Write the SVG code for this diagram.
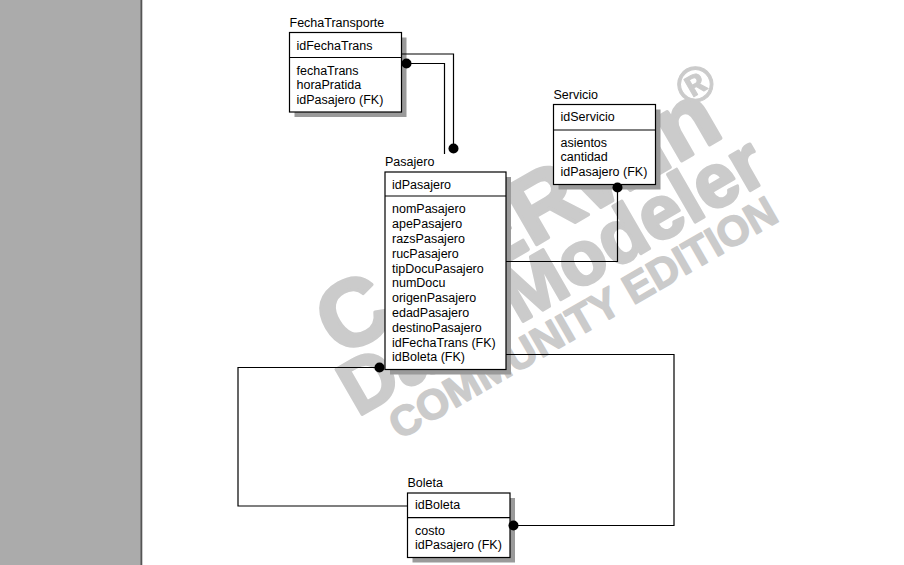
<svg xmlns="http://www.w3.org/2000/svg" width="904" height="565" viewBox="0 0 904 565">
  <style>
    .title { font-family: "Liberation Sans", Arial, sans-serif; font-size: 12.5px; fill: #000; }
    .attr { font-family: "Liberation Sans", Arial, sans-serif; font-size: 12.5px; fill: #000; }
    .box { fill: #fff; stroke: #000; stroke-width: 1.2; }
    .shadow { fill: #9a9a9a; }
    .div { stroke: #000; stroke-width: 1.2; }
    .rel { fill: none; stroke: #000; stroke-width: 1.2; }
    .dot { fill: #000; }
    .wm { font-family: "Liberation Sans", Arial, sans-serif; font-weight: bold; fill: #cbcbcb; stroke: #cbcbcb; stroke-linejoin: round; }
  </style>

  <!-- page background and margin band -->
  <rect x="0" y="0" width="904" height="565" fill="#ffffff"/>
  <rect x="0" y="0" width="141" height="565" fill="#ababab"/>
  <rect x="140.5" y="0" width="1.8" height="565" fill="#555555"/>

  <!-- edition watermark -->
  <g id="watermark" transform="rotate(-30)">
    <text class="wm" x="338" y="480" font-size="94" stroke-width="3.5" text-anchor="middle">CA ERwin</text>
    <text class="wm" x="560" y="438" font-size="50" stroke-width="1" text-anchor="middle">®</text>
    <text class="wm" x="340" y="540" font-size="76" stroke-width="3" text-anchor="middle">Data Modeler</text>
    <text class="wm" x="346" y="581" font-size="42" stroke-width="1.5" text-anchor="middle">COMMUNITY EDITION</text>
  </g>

  <!-- entity: FechaTransporte -->
  <g id="FechaTransporte">
    <text class="title" x="289.5" y="27">FechaTransporte</text>
    <rect class="shadow" x="294.5" y="37.5" width="112" height="79.5"/>
    <rect class="box" x="289.5" y="32.5" width="112" height="79.5"/>
    <line class="div" x1="289.5" y1="57.5" x2="401.5" y2="57.5"/>
    <text class="attr" x="296.5" y="49.5">idFechaTrans</text>
    <text class="attr" x="296.5" y="74.5">fechaTrans</text>
    <text class="attr" x="296.5" y="89.3">horaPratida</text>
    <text class="attr" x="296.5" y="104.1">idPasajero (FK)</text>
  </g>

  <!-- entity: Servicio -->
  <g id="Servicio">
    <text class="title" x="553.5" y="98.5">Servicio</text>
    <rect class="shadow" x="558.5" y="109.5" width="102" height="80"/>
    <rect class="box" x="553.5" y="104.5" width="102" height="80"/>
    <line class="div" x1="553.5" y1="130" x2="655.5" y2="130"/>
    <text class="attr" x="560.5" y="121.3">idServicio</text>
    <text class="attr" x="560.5" y="146.5">asientos</text>
    <text class="attr" x="560.5" y="161.3">cantidad</text>
    <text class="attr" x="560.5" y="176.1">idPasajero (FK)</text>
  </g>

  <!-- entity: Pasajero -->
  <g id="Pasajero">
    <text class="title" x="385" y="166">Pasajero</text>
    <rect class="shadow" x="390" y="177" width="121" height="197.5"/>
    <rect class="box" x="385" y="172" width="121" height="197.5"/>
    <line class="div" x1="385" y1="196" x2="506" y2="196"/>
    <text class="attr" x="392" y="188.5">idPasajero</text>
    <text class="attr" x="392" y="213.3">nomPasajero</text>
    <text class="attr" x="392" y="228.1">apePasajero</text>
    <text class="attr" x="392" y="242.9">razsPasajero</text>
    <text class="attr" x="392" y="257.7">rucPasajero</text>
    <text class="attr" x="392" y="272.5">tipDocuPasajero</text>
    <text class="attr" x="392" y="287.3">numDocu</text>
    <text class="attr" x="392" y="302.1">origenPasajero</text>
    <text class="attr" x="392" y="316.9">edadPasajero</text>
    <text class="attr" x="392" y="331.7">destinoPasajero</text>
    <text class="attr" x="392" y="346.5">idFechaTrans (FK)</text>
    <text class="attr" x="392" y="361.3">idBoleta (FK)</text>
  </g>

  <!-- entity: Boleta -->
  <g id="Boleta">
    <text class="title" x="407.5" y="487.3">Boleta</text>
    <rect class="shadow" x="412.5" y="498" width="102.5" height="64.5"/>
    <rect class="box" x="407.5" y="493" width="102.5" height="64.5"/>
    <line class="div" x1="407.5" y1="517.7" x2="510" y2="517.7"/>
    <text class="attr" x="415" y="509.3">idBoleta</text>
    <text class="attr" x="415" y="534.5">costo</text>
    <text class="attr" x="415" y="549.3">idPasajero (FK)</text>
  </g>

  <!-- relationships, drawn over the entity shadows -->
  <g id="connectors">
    <path class="rel" d="M401.5,54 H453.5 V148"/>
    <circle class="dot" cx="453.5" cy="148.5" r="5"/>
    <path class="rel" d="M406.5,63.5 H444.5 V154"/>
    <circle class="dot" cx="406.5" cy="63.5" r="5"/>
    <path class="rel" d="M617.5,187.5 V261.5 H506"/>
    <circle class="dot" cx="617.5" cy="187.5" r="5"/>
    <path class="rel" d="M379.5,367.5 H238 V506 H407.5"/>
    <circle class="dot" cx="379.5" cy="367.5" r="5"/>
    <path class="rel" d="M506,354.5 H674 V525.5 H513"/>
    <circle class="dot" cx="513.5" cy="525.5" r="5"/>
  </g>
</svg>
